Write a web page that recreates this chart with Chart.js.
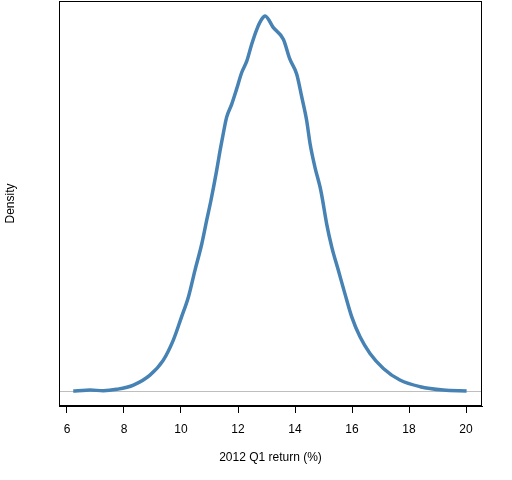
<!DOCTYPE html>
<html>
<head>
<meta charset="utf-8">
<script src="https://cdn.jsdelivr.net/npm/chart.js@4"></script>
<style>
html,body{margin:0;padding:0;background:#fff;}
#wrap{width:512px;height:480px;}
</style>
</head>
<body>
<div id="wrap"><canvas id="c" width="512" height="480"></canvas></div>
<script>
const returnPct = [6.22, 6.28, 6.81, 7.27, 7.74, 8.33, 8.91, 9.38, 9.73, 10.02, 10.26, 10.49, 10.73, 10.90, 11.05, 11.25, 11.37, 11.48, 11.60, 11.78, 11.95, 12.13, 12.31, 12.48, 12.66, 12.83, 12.95, 13.24, 13.59, 13.82, 14.06, 14.24, 14.41, 14.53, 14.70, 14.88, 14.96, 15.11, 15.29, 15.52, 15.75, 15.99, 16.28, 16.63, 17.10, 17.68, 18.39, 19.20, 20.02];
const density = [0.0000, 0.0000, 0.0007, 0.0002, 0.0012, 0.0043, 0.0115, 0.0223, 0.0367, 0.0535, 0.0679, 0.0871, 0.1063, 0.1231, 0.1375, 0.1591, 0.1735, 0.1855, 0.1975, 0.2071, 0.2179, 0.2299, 0.2383, 0.2503, 0.2611, 0.2683, 0.2707, 0.2623, 0.2539, 0.2395, 0.2287, 0.2119, 0.1951, 0.1783, 0.1615, 0.1471, 0.1387, 0.1207, 0.1039, 0.0871, 0.0703, 0.0535, 0.0391, 0.0271, 0.0163, 0.0079, 0.0031, 0.0007, 0.0000];
const xTicks = [6, 8, 10, 12, 14, 16, 18, 20];
const xLabel = "2012 Q1 return (%)";
const yLabel = "Density";

const xMin = 5.72, xMax = 20.56;
const peak = Math.max(...density);
const yMin = -0.04 * peak, yMax = 1.04 * peak;

const boxPlugin = {
  id: 'box',
  afterDraw(chart) {
    const a = chart.chartArea, ctx = chart.ctx;
    ctx.save();
    ctx.strokeStyle = '#000';
    ctx.lineWidth = 1;
    ctx.strokeRect(Math.round(a.left) + 0.5, Math.round(a.top) + 0.5, Math.round(a.right - a.left) - 1, Math.round(a.bottom - a.top) - 1);
    ctx.restore();
  }
};

const font = { family: "'Liberation Sans', Arial, sans-serif", size: 12 };

new Chart(document.getElementById('c'), {
  type: 'scatter',
  data: {
    datasets: [{
      data: returnPct.map((x, i) => ({ x: x, y: density[i] })),
      showLine: true,
      borderColor: '#4682B4',
      borderWidth: 3.5,
      pointRadius: 0,
      cubicInterpolationMode: 'monotone',
      fill: false
    }]
  },
  options: {
    responsive: false,
    animation: false,
    devicePixelRatio: 1,
    layout: { padding: { left: 0, right: 30, top: 1, bottom: 0 } },
    plugins: { legend: { display: false }, tooltip: { enabled: false } },
    scales: {
      x: {
        type: 'linear',
        min: xMin, max: xMax,
        afterBuildTicks: (s) => { s.ticks = xTicks.map(v => ({ value: v })); },
        afterFit: (s) => { s.height = 74; },
        ticks: { color: '#000', font: font, padding: 9, maxRotation: 0, autoSkip: false },
        grid: { drawOnChartArea: false, drawTicks: true, tickLength: 7, color: '#000', lineWidth: 1 },
        border: { display: true, color: '#000', width: 1 },
        title: { display: true, text: xLabel, color: '#000', font: font, padding: { top: 0, bottom: 15 } }
      },
      y: {
        type: 'linear',
        min: yMin, max: yMax,
        afterBuildTicks: (s) => { s.ticks = [{ value: 0 }]; },
        afterFit: (s) => { s.width = 59; },
        ticks: { display: false },
        grid: { display: true, drawTicks: false, color: '#bebebe', lineWidth: 1 },
        border: { display: false },
        title: { display: true, text: yLabel, color: '#000', font: font, padding: { top: 3, bottom: 0 } }
      }
    }
  },
  plugins: [boxPlugin]
});
</script>
</body>
</html>
